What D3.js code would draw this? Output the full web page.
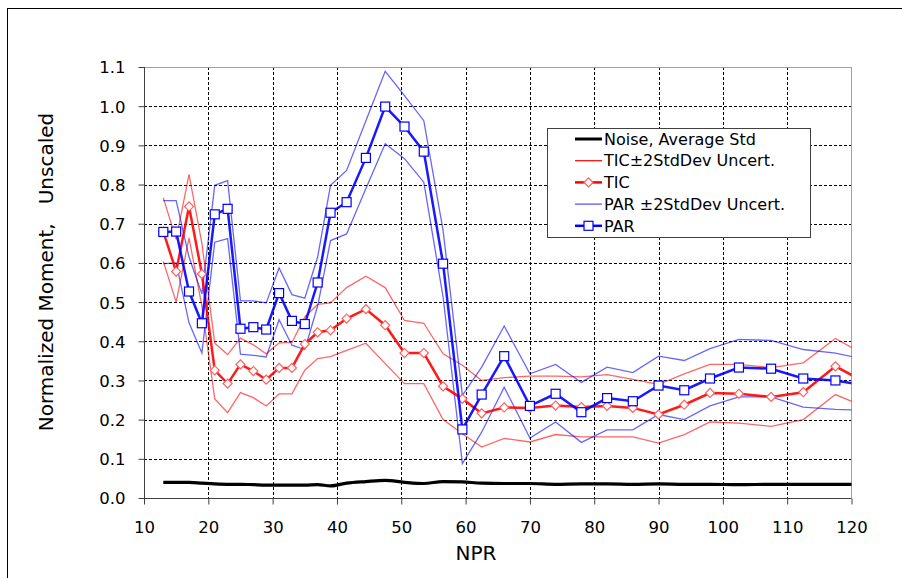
<!DOCTYPE html>
<html>
<head>
<meta charset="utf-8">
<script src="https://cdn.jsdelivr.net/npm/d3@7"></script>
<style>
  html, body { margin: 0; padding: 0; background: #fff; }
  svg { display: block; }
  text { font-family: "DejaVu Sans", Verdana, sans-serif; fill: #000; }
</style>
</head>
<body>
<svg id="chart" width="902" height="578"></svg>
<script>
// ---- data ----
const npr      = [13, 15, 17, 19, 21, 23, 25, 27, 29, 31, 33, 35, 37, 39, 41.5, 44.5, 47.5, 50.5, 53.5, 56.5, 59.5, 62.5, 66, 70, 74, 78, 82, 86, 90, 94, 98, 102.5, 107.5, 112.5, 117.5, 122.5];
const noise    = [0.040, 0.040, 0.040, 0.038, 0.036, 0.035, 0.035, 0.034, 0.033, 0.033, 0.033, 0.033, 0.034, 0.031, 0.038, 0.042, 0.045, 0.040, 0.037, 0.042, 0.041, 0.038, 0.037, 0.037, 0.035, 0.036, 0.036, 0.035, 0.036, 0.035, 0.035, 0.034, 0.035, 0.035, 0.035, 0.034];
const tic      = [0.680, 0.578, 0.744, 0.572, 0.326, 0.292, 0.341, 0.324, 0.302, 0.332, 0.332, 0.393, 0.423, 0.428, 0.458, 0.482, 0.441, 0.370, 0.370, 0.285, 0.253, 0.216, 0.231, 0.230, 0.236, 0.232, 0.235, 0.230, 0.213, 0.238, 0.268, 0.266, 0.258, 0.270, 0.336, 0.292];
const ticHi    = [0.766, 0.660, 0.826, 0.650, 0.395, 0.366, 0.408, 0.391, 0.368, 0.396, 0.397, 0.462, 0.494, 0.498, 0.537, 0.566, 0.537, 0.453, 0.446, 0.368, 0.339, 0.300, 0.307, 0.311, 0.311, 0.309, 0.315, 0.303, 0.290, 0.317, 0.341, 0.341, 0.333, 0.345, 0.407, 0.361];
const ticLo    = [0.604, 0.500, 0.664, 0.490, 0.253, 0.218, 0.269, 0.256, 0.235, 0.266, 0.266, 0.326, 0.356, 0.361, 0.377, 0.395, 0.343, 0.292, 0.292, 0.200, 0.164, 0.130, 0.152, 0.143, 0.162, 0.156, 0.156, 0.156, 0.140, 0.162, 0.194, 0.191, 0.183, 0.200, 0.264, 0.230];
const par      = [0.679, 0.680, 0.527, 0.446, 0.724, 0.738, 0.432, 0.436, 0.430, 0.523, 0.452, 0.444, 0.550, 0.728, 0.755, 0.868, 0.999, 0.948, 0.884, 0.598, 0.175, 0.264, 0.362, 0.235, 0.266, 0.219, 0.255, 0.247, 0.287, 0.275, 0.305, 0.333, 0.330, 0.305, 0.300, 0.286];
const parHi    = [0.759, 0.759, 0.615, 0.521, 0.798, 0.810, 0.503, 0.503, 0.498, 0.587, 0.519, 0.510, 0.615, 0.798, 0.836, 0.963, 1.089, 1.027, 0.963, 0.683, 0.262, 0.334, 0.439, 0.317, 0.341, 0.295, 0.334, 0.320, 0.362, 0.351, 0.381, 0.405, 0.402, 0.379, 0.370, 0.352];
const parLo    = [0.598, 0.600, 0.447, 0.370, 0.653, 0.662, 0.367, 0.364, 0.360, 0.455, 0.390, 0.379, 0.490, 0.657, 0.674, 0.790, 0.904, 0.866, 0.806, 0.513, 0.088, 0.168, 0.283, 0.153, 0.194, 0.142, 0.174, 0.174, 0.213, 0.200, 0.235, 0.258, 0.258, 0.232, 0.226, 0.224];
const xTicks   = [10, 20, 30, 40, 50, 60, 70, 80, 90, 100, 110, 120];
const yTicks   = [0.0, 0.1, 0.2, 0.3, 0.4, 0.5, 0.6, 0.7, 0.8, 0.9, 1.0, 1.1];
const legendLabels = ["Noise, Average Std", "TIC\u00B12StdDev Uncert.", "TIC", "PAR \u00B12StdDev Uncert.", "PAR"];
const xTitle = "NPR";
const yTitle = "Normalized Moment,   Unscaled";

// ---- layout ----
const svg = d3.select("#chart");
const pL = 144, pR = 851.5, pT = 67, pB = 498;
const x = d3.scaleLinear().domain([10, 120]).range([pL, pR]);
const y = d3.scaleLinear().domain([0, 1.1]).range([pB, pT]);

// outer frame (left + top only visible)
svg.append("line").attr("x1", 7.5).attr("x2", 7.5).attr("y1", 8).attr("y2", 578).attr("stroke", "#000").attr("stroke-width", 1);
svg.append("line").attr("x1", 7.5).attr("x2", 902).attr("y1", 8.5).attr("y2", 8.5).attr("stroke", "#000").attr("stroke-width", 1);

// clip
svg.append("defs").append("clipPath").attr("id", "plotclip")
  .append("rect").attr("x", pL).attr("y", pT - 10).attr("width", pR - pL).attr("height", pB - pT + 20);

// gridlines
const grid = svg.append("g");
grid.selectAll("line.gx").data(xTicks.filter(d => d > 10 && d < 120)).enter().append("line")
  .attr("x1", d => Math.round(x(d)) + 0.5).attr("x2", d => Math.round(x(d)) + 0.5)
  .attr("y1", pT).attr("y2", pB)
  .attr("stroke", "#000").attr("stroke-width", 1).attr("stroke-dasharray", "3,2");
grid.selectAll("line.gy").data(yTicks.filter(d => d > 0 && d < 1.1)).enter().append("line")
  .attr("y1", d => Math.round(y(d)) + 0.5).attr("y2", d => Math.round(y(d)) + 0.5)
  .attr("x1", pL).attr("x2", pR)
  .attr("stroke", "#000").attr("stroke-width", 1).attr("stroke-dasharray", "3,2");

// plot border top/right gray
svg.append("line").attr("x1", pL).attr("x2", pR).attr("y1", pT + 0.5).attr("y2", pT + 0.5).attr("stroke", "#a0a0a0");
svg.append("line").attr("x1", pR).attr("x2", pR).attr("y1", pT).attr("y2", pB).attr("stroke", "#a0a0a0");

// axes
const xAxis = d3.axisBottom(x).tickValues(xTicks).tickSize(6).tickPadding(17).tickFormat(d3.format("d"));
const yAxis = d3.axisLeft(y).tickValues(yTicks).tickSize(6).tickPadding(13).tickFormat(d3.format(".1f"));
const gx = svg.append("g").attr("transform", `translate(0,${pB + 0.5})`).call(xAxis);
const gy = svg.append("g").attr("transform", `translate(${pL + 0.5},0)`).call(yAxis);
[gx, gy].forEach(g => {
  g.select(".domain").attr("stroke", "#404040");
  g.selectAll(".tick line").attr("stroke", "#404040");
  g.selectAll(".tick text").attr("font-family", "DejaVu Sans, Verdana, sans-serif").attr("font-size", 16.5).attr("fill", "#000");
});
gx.select(".domain").attr("d", `M${pL},0H${pR}`);
gy.select(".domain").attr("d", `M0,${pB}V${pT}`);
gy.selectAll(".tick text").attr("dy", "0.36em");

// titles
svg.append("text").attr("x", 476).attr("y", 560).attr("text-anchor", "middle").attr("font-size", 20).text(xTitle);
svg.append("text").attr("transform", "translate(53,272) rotate(-90)").attr("text-anchor", "middle")
  .attr("font-size", 20).attr("xml:space", "preserve").style("white-space", "pre").text(yTitle);

// series
const plot = svg.append("g").attr("clip-path", "url(#plotclip)");
const idx = d3.range(npr.length);
const mkLine = arr => d3.line().x(i => x(npr[i])).y(i => y(arr[i]));

const red = "#ff0000", blue = "#0000ff";
// bands
[[ticHi, red], [ticLo, red], [parHi, blue], [parLo, blue]].forEach(([arr, c]) => {
  plot.append("path").attr("d", mkLine(arr)(idx)).attr("fill", "none")
    .attr("stroke", c).attr("stroke-opacity", 0.6).attr("stroke-width", 1.3);
});
// noise
plot.append("path").attr("d", d3.line().x(i => x(npr[i])).y(i => y(noise[i])).curve(d3.curveMonotoneX)(idx))
  .attr("fill", "none").attr("stroke", "#000").attr("stroke-width", 3.2);
// TIC
plot.append("path").attr("d", mkLine(tic)(idx)).attr("fill", "none").attr("stroke", red).attr("stroke-width", 2.5).attr("stroke-opacity", 0.9);
plot.selectAll("path.tm").data(idx).enter().append("path").attr("class", "tm")
  .attr("transform", i => `translate(${x(npr[i])},${y(tic[i])}) rotate(45)`)
  .attr("d", "M-3.2,-3.2H3.2V3.2H-3.2Z").attr("fill", "#fff").attr("stroke", "#ff6060").attr("stroke-width", 1.2);
// PAR
plot.append("path").attr("d", mkLine(par)(idx)).attr("fill", "none").attr("stroke", blue).attr("stroke-width", 2.5).attr("stroke-opacity", 0.9);
plot.selectAll("rect.pm").data(idx).enter().append("rect").attr("class", "pm")
  .attr("x", i => x(npr[i]) - 4.5).attr("y", i => y(par[i]) - 4.5).attr("width", 9).attr("height", 9)
  .attr("fill", "#fff").attr("stroke", blue).attr("stroke-width", 1.2);

// legend
const lg = svg.append("g");
lg.append("rect").attr("x", 547.5).attr("y", 128.5).attr("width", 263).attr("height", 109)
  .attr("fill", "#fff").attr("stroke", "#404040").attr("stroke-width", 1);
const ly = i => 139 + i * 21.7;
const lx1 = 575, lx2 = 602;
lg.append("line").attr("x1", lx1).attr("x2", lx2).attr("y1", ly(0)).attr("y2", ly(0)).attr("stroke", "#000").attr("stroke-width", 3);
lg.append("line").attr("x1", lx1).attr("x2", lx2).attr("y1", ly(1)).attr("y2", ly(1)).attr("stroke", red).attr("stroke-width", 1.2);
lg.append("line").attr("x1", lx1).attr("x2", lx2).attr("y1", ly(2)).attr("y2", ly(2)).attr("stroke", red).attr("stroke-width", 2.5);
lg.append("path").attr("transform", `translate(${(lx1 + lx2) / 2},${ly(2)}) rotate(45)`)
  .attr("d", "M-3.2,-3.2H3.2V3.2H-3.2Z").attr("fill", "#fff").attr("stroke", "#ff6060").attr("stroke-width", 1.2);
lg.append("line").attr("x1", lx1).attr("x2", lx2).attr("y1", ly(3)).attr("y2", ly(3)).attr("stroke", blue).attr("stroke-opacity", 0.7).attr("stroke-width", 1.2);
lg.append("line").attr("x1", lx1).attr("x2", lx2).attr("y1", ly(4)).attr("y2", ly(4)).attr("stroke", blue).attr("stroke-width", 2.5);
lg.append("rect").attr("x", (lx1 + lx2) / 2 - 4.5).attr("y", ly(4) - 4.5).attr("width", 9).attr("height", 9)
  .attr("fill", "#fff").attr("stroke", blue).attr("stroke-width", 1.2);
lg.selectAll("text.lt").data(legendLabels).enter().append("text").attr("class", "lt")
  .attr("x", 604).attr("y", (d, i) => ly(i)).attr("dy", "0.36em").attr("font-size", 16).text(d => d);
</script>
</body>
</html>
